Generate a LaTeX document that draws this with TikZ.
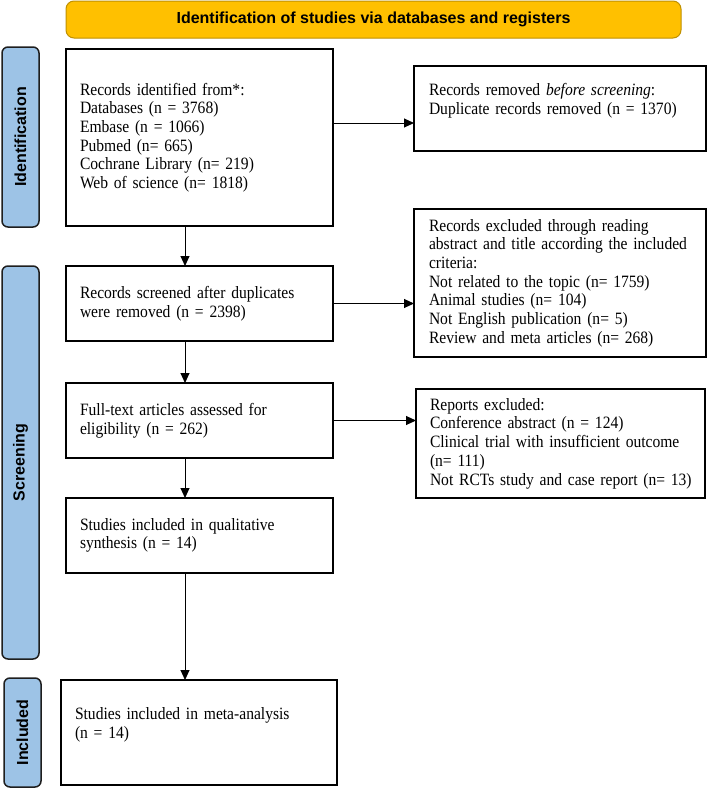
\documentclass[tikz,border=0pt]{standalone}
\usepackage{fontspec}
\setmainfont{Liberation Serif}[FakeStretch=0.9]
\setsansfont{Liberation Sans}
\usetikzlibrary{arrows.meta}
\definecolor{gold}{HTML}{FFC000}
\definecolor{goldline}{HTML}{BF9000}
\definecolor{sideblue}{HTML}{9DC3E6}
\definecolor{sideline}{HTML}{1E1E1E}
\begin{document}
\begin{tikzpicture}[x=1pt,y=-1pt,
  box/.style={draw=black, line width=1.5pt, rectangle, anchor=north west,
    outer sep=0pt, inner xsep=14pt, inner ysep=0pt, align=left,
    font=\fontsize{17.3}{18.7}\selectfont},
  header/.style={draw=goldline, fill=gold, line width=1pt, rounded corners=8pt,
    minimum width=615pt, minimum height=37pt, inner sep=0pt,
    font=\sffamily\bfseries\fontsize{16}{19}\selectfont},
  sidebar/.style={draw=sideline, fill=sideblue, line width=1.5pt, rounded corners=6pt,
    rotate=90, minimum height=37pt, inner sep=0pt,
    font=\sffamily\bfseries\fontsize{16}{19}\selectfont},
  arr/.style={-{Triangle[length=10pt,width=9pt]}, line width=1pt, draw=black}
]
\useasboundingbox (0,0) rectangle (708,788);

% header
\node[header] (hdr) at (373.5,19.5) {Identification of studies via databases and registers};

% side bars
\node[sidebar, minimum width=180pt] (sid) at (20.5,137) {Identification};
\node[sidebar, minimum width=393pt] (sscr) at (20.5,462.5) {Screening};
\node[sidebar, minimum width=109pt] (sinc) at (22.5,732.5) {Included};

% left column
\node[box, text width=239pt, minimum width=267pt, minimum height=177pt] (b1) at (66,49)
  {Records identified from*:\\Databases (n = 3768)\\Embase (n = 1066)\\Pubmed (n= 665)\\Cochrane Library (n= 219)\\Web of science (n= 1818)};
\node[box, text width=239pt, minimum width=267pt, minimum height=75pt] (b2) at (66,266)
  {\mbox{Records screened after duplicates}\\were removed (n = 2398)};
\node[box, text width=239pt, minimum width=267pt, minimum height=75pt] (b3) at (66,383)
  {\mbox{Full-text articles assessed for}\\eligibility (n = 262)};
\node[box, text width=239pt, minimum width=267pt, minimum height=75pt] (b4) at (66,498)
  {\mbox{Studies included in qualitative}\\synthesis (n = 14)};
\node[box, text width=248pt, minimum width=276pt, minimum height=105pt] (inc) at (61,680)
  {\mbox{Studies included in meta-analysis}\\(n = 14)\\\mbox{}};

% right column
\node[box, inner xsep=15pt, text width=262pt, minimum width=292pt, minimum height=85pt] (r1) at (414,66)
  {\mbox{Records removed \textit{before screening}:}\\\mbox{Duplicate records removed (n = 1370)}\\\mbox{}};
\node[box, inner xsep=15pt, text width=262pt, minimum width=292pt, minimum height=148pt] (r2) at (414,209)
  {\mbox{Records excluded through reading}\\\mbox{abstract and title according the included}\\criteria:\\\mbox{Not related to the topic (n= 1759)}\\\mbox{Animal studies (n= 104)}\\\mbox{Not English publication (n= 5)}\\\mbox{Review and meta articles (n= 268)}};
\node[box, text width=261pt, minimum width=289pt, minimum height=109pt] (r3) at (416,389)
  {Reports excluded:\\\mbox{Conference abstract (n = 124)}\\\mbox{Clinical trial with insufficient outcome}\\(n= 111)\\\mbox{Not RCTs study and case report (n= 13)}};

% connectors
\coordinate (vx) at (185,0);
\coordinate (h1) at (0,123);
\draw[arr] (b1.south -| vx) -- (b2.north -| vx);
\draw[arr] (b2.south -| vx) -- (b3.north -| vx);
\draw[arr] (b3.south -| vx) -- (b4.north -| vx);
\draw[arr] (b4.south -| vx) -- (inc.north -| vx);
\draw[arr] (b1.east |- h1) -- (r1.west |- h1);
\draw[arr] (b2.east) -- (r2.west |- b2.east);
\draw[arr] (b3.east) -- (r3.west |- b3.east);
\end{tikzpicture}
\end{document}
